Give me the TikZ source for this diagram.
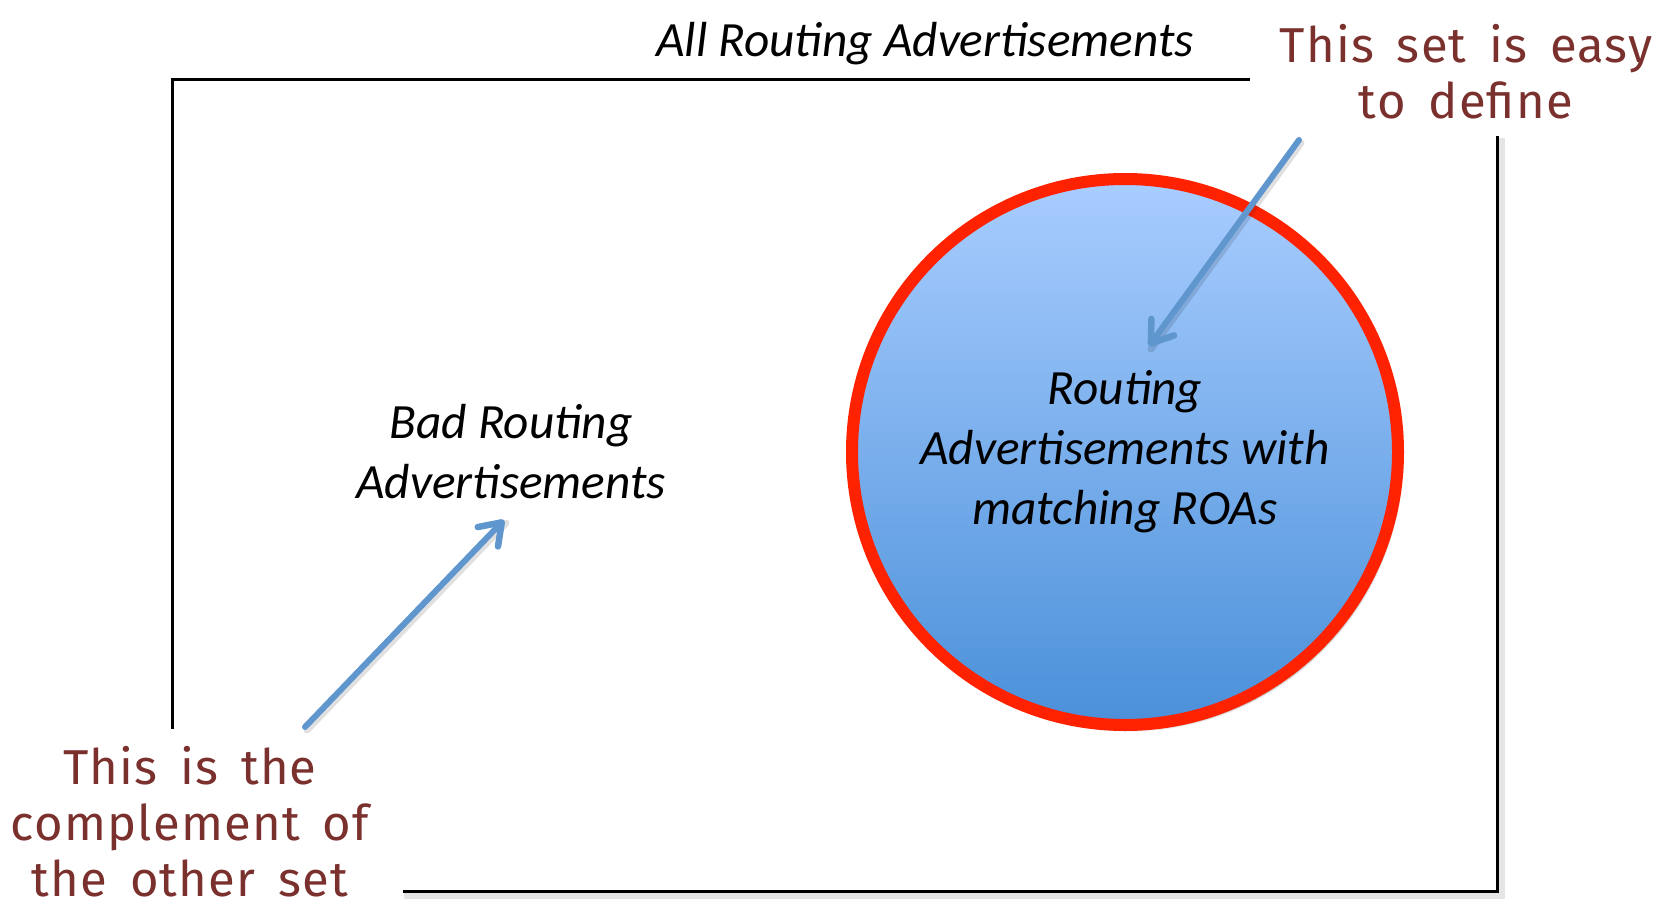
\documentclass[tikz,border=0pt]{standalone}
\usepackage{fontspec}
\setmainfont{Carlito}
\newfontfamily\handfont{Fira Sans}[LetterSpace=2.5,WordSpace=1.6]
\usetikzlibrary{arrows.meta,shadows.blur}
\definecolor{ink}{RGB}{122,48,44}
\definecolor{arrowblue}{RGB}{95,150,206}
\definecolor{ringred}{RGB}{255,34,0}
\definecolor{skytop}{RGB}{169,205,255}
\definecolor{skybot}{RGB}{74,144,217}
\begin{document}
\begin{tikzpicture}[x=1pt,y=-1pt,
  setlabel/.style={font=\fontsize{49.3}{60}\selectfont\itshape, align=center, inner sep=0pt},
  note/.style={font=\handfont\fontsize{49}{56}\selectfont, text=ink, align=center, inner sep=0pt},
  frame/.style={line width=3pt, line cap=rect, line join=miter},
  frameshadow/.style={line width=8pt, black, opacity=0.10, line cap=butt},
  pointer/.style={arrowblue, line width=6pt, line cap=round,
    -{Straight Barb[length=20pt,width=28pt,line width=6.5pt 0,line cap=round,line join=round]}},
  pointershadow/.style={black, opacity=0.12, line width=7pt, line cap=round},
]
\useasboundingbox (0,0) rectangle (1663,912);

% frame corners and gap ends
\coordinate (topgap) at (1248,79.5);
\coordinate (tl) at (172,79.5);
\coordinate (leftgap) at (172,727);
\coordinate (botgap) at (404,891);
\coordinate (br) at (1497,891);
\coordinate (rightgap) at (1497,138);

% soft shadow of the frame
\draw[frameshadow] ([shift={(0,4)}]botgap) -- ([shift={(4,4)}]br) -- ([shift={(4,0)}]rightgap);
\draw[frame] (topgap) -- (tl) -- (leftgap);
\draw[frame] (botgap) -- (br) -- (rightgap);

% the well-defined set
\node[circle, minimum size=546pt, inner sep=0pt, draw=ringred, line width=12pt,
      top color=skytop, bottom color=skybot, setlabel,
      blur shadow={shadow xshift=4pt, shadow yshift=-5pt, shadow blur steps=10, shadow opacity=35}]
  (roa) at (1125,452) {Routing\\Advertisements with\\matching ROAs};

\node[setlabel] (title) at (925,44) {All Routing Advertisements};
\node[setlabel] (bad) at (511,452) {Bad Routing\\Advertisements};

\node[note] (easy) at (1466,72) {This set is easy\\to define};
\node[note] (compl) at (190,822) {This is the\\complement of\\the other set};

% pointer ends
\coordinate (complTail) at (305,727);
\coordinate (badTip) at (504,520);
\coordinate (easyTail) at (1299,140);
\coordinate (roaTip) at (1149,346);

\draw[pointershadow] ([shift={(2,3)}]complTail) -- ([shift={(2,3)}]badTip);
\draw[pointer] (complTail) -- (badTip);
\draw[pointershadow] ([shift={(2,3)}]easyTail) -- ([shift={(2,3)}]roaTip);
\draw[pointer] (easyTail) -- (roaTip);
\end{tikzpicture}
\end{document}
